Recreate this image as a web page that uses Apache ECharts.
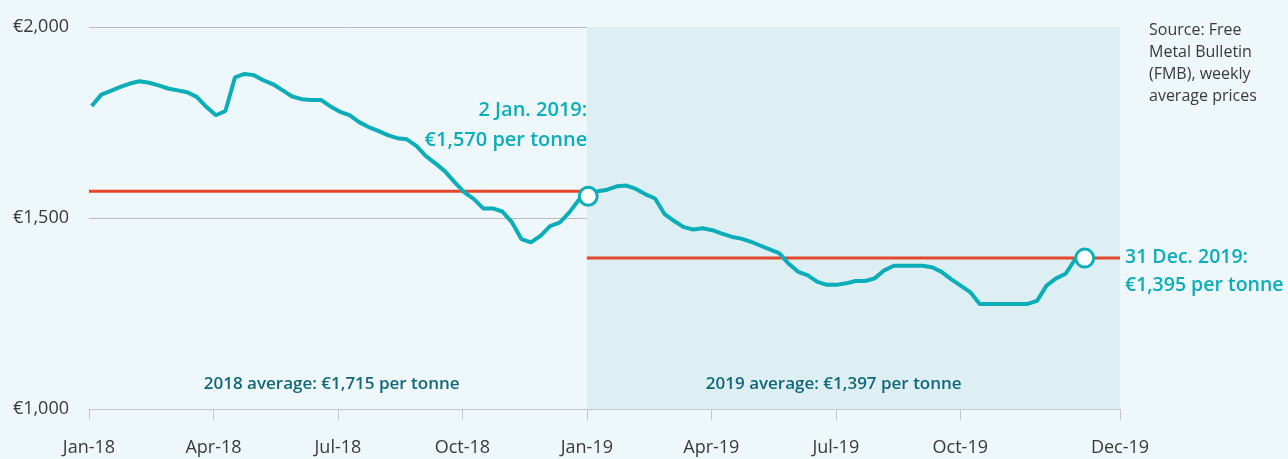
<!DOCTYPE html>
<html><head><meta charset="utf-8">
<script src="https://cdn.jsdelivr.net/npm/echarts@6/dist/echarts.min.js"></script>
<style>html,body{margin:0;padding:0;background:#eef7f9;}#c{width:1288px;height:459px;}</style>
</head><body><div id="c"></div>
<script>
// ---- data ----
const xTickMonths = [0, 3, 6, 9, 12, 15, 18, 21, 24.85];
const xTickLabels = ['Jan-18','Apr-18','Jul-18','Oct-18','Jan-19','Apr-19','Jul-19','Oct-19','Dec-19'];
const yTickValues = [1000, 1500, 2000];
const firstWeekDay = 2; // 3 Jan 2018, days from 1 Jan 2018
const weeklyPrices = [
  1793,1823,1833,1843,1852,1858,1854,1847,1839,1834,1829,1817,1791,1769,1780,1868,1877,1874,1860,1850,
  1834,1818,1811,1809,1809,1792,1778,1769,1751,1738,1728,1717,1709,1706,1689,1662,1643,1622,1594,1568,
  1550,1525,1525,1517,1489,1445,1436,1453,1479,1488,1514,1547,1557,
  1570,1574,1583,1585,1576,1562,1551,1510,1492,1476,1470,1473,1468,1459,1451,1446,1438,1428,1418,1408,
  1380,1359,1350,1333,1325,1325,1329,1335,1335,1342,1363,1375,1375,1375,1375,1371,1359,1340,1323,1306,
  1275,1275,1275,1275,1275,1275,1283,1323,1342,1354,1392,1395
];
const referenceLevels = [1570, 1395];
const referenceSpans = [[0, 12], [12, 24.85]];
const annotatedWeeks = [52, 104];
const annotationTexts = [['2 Jan. 2019:', '€1,570 per tonne'], ['31 Dec. 2019:', '€1,395 per tonne']];
const averageTexts = ['2018 average: €1,715 per tonne', '2019 average: €1,397 per tonne'];
const sourceText = ['Source: Free', 'Metal Bulletin', '(FMB), weekly', 'average prices'];

// ---- build ----
const daysPerMonth = 365 / 12;
const weekMonth = i => (firstWeekDay + 7 * i) / daysPerMonth;
const lineData = weeklyPrices.map((v, i) => [weekMonth(i), v]);
const markerData = annotatedWeeks.map(i => [weekMonth(i), weeklyPrices[i]]);
const FONT = '"Open Sans", "Noto Sans", sans-serif';
const TEAL = '#0badb9';
const RED = '#e5472b';
const averageLabelCenters = [5.85, 17.95]; // layout positions (months) for the average captions

const chart = echarts.init(document.getElementById('c'), null, {renderer: 'canvas'});
const xMax = xTickMonths[xTickMonths.length - 1];

const series = [
  {
    type: 'line', name: 'shade', data: [], silent: true,
    markArea: {silent: true, itemStyle: {color: '#ddeff3'}, data: [[{xAxis: 12, yAxis: 1000}, {xAxis: xMax, yAxis: 2000}]]},
    z: 0
  }
];
referenceLevels.forEach((lvl, j) => {
  series.push({
    type: 'line', data: referenceSpans[j].map(x => [x, lvl]), symbol: 'none', silent: true,
    lineStyle: {color: RED, width: 3}, z: 2
  });
});
series.push({
  type: 'line', data: lineData, symbol: 'none', lineStyle: {color: TEAL, width: 4}, z: 3
});
series.push({
  type: 'scatter', data: markerData, symbol: 'circle', symbolSize: 18,
  itemStyle: {color: '#ffffff', borderColor: TEAL, borderWidth: 3, opacity: 1}, z: 4
});

chart.setOption({
  animation: false,
  backgroundColor: '#eef7f9',
  grid: {left: 89, right: 168, top: 27, bottom: 50},
  xAxis: {
    type: 'value', min: 0, max: xMax,
    axisLine: {show: true, lineStyle: {color: '#c4c8ca', width: 1}},
    axisTick: {show: true, length: 11, lineStyle: {color: '#c4c8ca'}, customValues: xTickMonths},
    axisLabel: {
      customValues: xTickMonths, margin: 30, color: '#3a3a3a', fontFamily: FONT, fontSize: 18,
      formatter: v => { const i = xTickMonths.findIndex(t => Math.abs(t - v) < 1e-6); return i >= 0 ? xTickLabels[i] : ''; }
    },
    splitLine: {show: false}
  },
  yAxis: {
    type: 'value', min: yTickValues[0], max: yTickValues[yTickValues.length - 1], interval: 500,
    axisLine: {show: false}, axisTick: {show: false},
    axisLabel: {margin: 20, color: '#3a3a3a', fontFamily: FONT, fontSize: 18,
      formatter: v => '€' + v.toLocaleString('en-US')},
    splitLine: {show: true, lineStyle: {color: '#b8bcbe', width: 1}}
  },
  series: series
});

// ---- text annotations ----
const g = [];
const p0 = chart.convertToPixel({gridIndex: 0}, markerData[0]);
const p1 = chart.convertToPixel({gridIndex: 0}, markerData[1]);
g.push({type: 'text', z: 100, x: p0[0] - 1, y: p0[1] - 101, style: {
  text: annotationTexts[0].join('\n'), align: 'right', verticalAlign: 'top', fill: TEAL,
  font: '600 20px ' + FONT, lineHeight: 30}});
g.push({type: 'text', z: 100, x: 1125, y: p1[1] - 15, style: {
  text: annotationTexts[1].join('\n'), align: 'left', verticalAlign: 'top', fill: TEAL,
  font: '600 19.5px ' + FONT, lineHeight: 28}});
const yAvg = chart.convertToPixel({gridIndex: 0}, [0, 1000])[1] - 25;
averageLabelCenters.forEach((c, j) => {
  const x = chart.convertToPixel({gridIndex: 0}, [c, 1000])[0];
  g.push({type: 'text', z: 100, x: x, y: yAvg, style: {
    text: averageTexts[j], align: 'center', verticalAlign: 'middle', fill: '#12677a',
    font: '600 17px ' + FONT}});
});
g.push({type: 'text', z: 100, x: 1149, y: 19, style: {
  text: sourceText.join('\n'), align: 'left', verticalAlign: 'top', fill: '#3a3a3a',
  font: '16px ' + FONT, lineHeight: 22}});
chart.setOption({graphic: g});
</script></body></html>
